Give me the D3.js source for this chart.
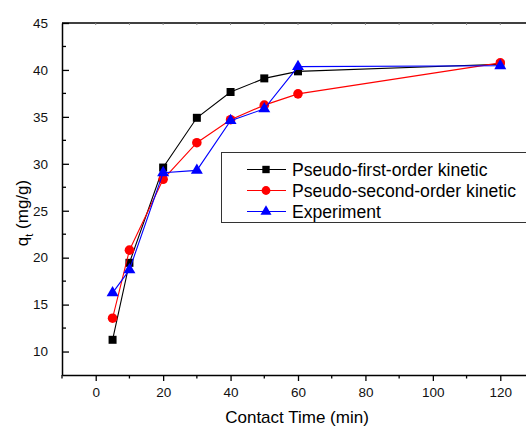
<!DOCTYPE html>
<html lang="en">

<head>
  <meta charset="utf-8">
  <title> Kinetics </title>
  <script src="https://d3js.org/d3.v7.min.js"></script>
  <style>
    body {
      margin: 0;
      font-family: "Liberation Sans", Arial, sans-serif;
      background: #fff;
    }

    svg {
      display: block;
    }
  </style>
</head>

<body>
  <script>
    // data
    var times = [5, 10, 20, 30, 40, 50, 60, 120];
    var firstOrder = [11.25, 19.45, 29.6, 34.9, 37.65, 39.1, 39.85, 40.6];
    var secondOrder = [13.55, 20.8, 28.35, 32.25, 34.7, 36.25, 37.45, 40.75];
    var experiment = [16.25, 18.7, 29.05, 29.3, 34.6, 35.85, 40.35, 40.45];
    var seriesNames = ["Pseudo-first-order kinetic", "Pseudo-second-order kinetic", "Experiment"];
    var xTicks = [0, 20, 40, 60, 80, 100, 120];
    var yTicks = [10, 15, 20, 25, 30, 35, 40, 45];

    var width = 526, height = 428;
    var plotLeft = 62, plotTop = 23, plotBottom = 375, plotRight = 534;

    var svg = d3.select("body").append("svg")
      .attr("width", width)
      .attr("height", height);

    var x = d3.scaleLinear().domain([-10, 130]).range([plotLeft, plotRight]);
    var y = d3.scaleLinear().domain([7.5, 45]).range([plotBottom, plotTop]);

    // top frame line with small inward ticks
    svg.append("line")
      .attr("x1", plotLeft).attr("x2", plotRight)
      .attr("y1", plotTop).attr("y2", plotTop)
      .attr("stroke", "#000").attr("stroke-width", 1.5);
    svg.append("g").selectAll("line")
      .data(d3.range(0, 130, 10))
      .enter().append("line")
      .attr("x1", function(d) { return x(d); })
      .attr("x2", function(d) { return x(d); })
      .attr("y1", plotTop).attr("y2", plotTop + 2)
      .attr("stroke", "#888").attr("stroke-width", 1);

    // bottom axis
    var xAxis = svg.append("g")
      .attr("transform", "translate(0," + plotBottom + ")")
      .call(d3.axisBottom(x).tickValues(xTicks).tickSize(6).tickSizeOuter(0).tickPadding(6));
    xAxis.selectAll("line").attr("stroke-width", 1.3);
    xAxis.append("g").selectAll("line")
      .data(d3.range(-10, 130, 20))
      .enter().append("line")
      .attr("x1", function(d) { return x(d); })
      .attr("x2", function(d) { return x(d); })
      .attr("y1", 0).attr("y2", 3.5)
      .attr("stroke", "#000").attr("stroke-width", 1.3);

    // left axis, ticks pointing inward
    var yAxis = svg.append("g")
      .attr("transform", "translate(" + plotLeft + ",0)")
      .call(d3.axisLeft(y).tickValues(yTicks).tickSize(-7).tickSizeOuter(0).tickPadding(14));
    yAxis.selectAll("line").attr("stroke-width", 1.3);
    yAxis.append("g").selectAll("line")
      .data(d3.range(12.5, 45, 5))
      .enter().append("line")
      .attr("y1", function(d) { return y(d); })
      .attr("y2", function(d) { return y(d); })
      .attr("x1", 0).attr("x2", 4)
      .attr("stroke", "#000").attr("stroke-width", 1.3);

    svg.selectAll(".domain").attr("stroke-width", 1.5);
    svg.selectAll(".tick text")
      .attr("font-size", 13.5)
      .attr("font-family", "Liberation Sans, Arial, sans-serif")
      .attr("fill", "#111");

    // axis titles
    svg.append("text")
      .attr("x", 297).attr("y", 423)
      .attr("text-anchor", "middle")
      .attr("font-size", 17)
      .text("Contact Time (min)");

    var yTitle = svg.append("text")
      .attr("transform", "translate(28,213) rotate(-90)")
      .attr("text-anchor", "middle")
      .attr("font-size", 17);
    yTitle.append("tspan").text("q");
    yTitle.append("tspan").attr("font-size", 11).attr("dy", 5).text("t");
    yTitle.append("tspan").attr("dy", -5).text(" (mg/g)");

    var series = [
      { name: seriesNames[0], values: firstOrder, color: "#000", symbol: d3.symbolSquare, size: 64 },
      { name: seriesNames[1], values: secondOrder, color: "#ff0000", symbol: d3.symbolCircle, size: 72 },
      { name: seriesNames[2], values: experiment, color: "#0000ff", symbol: d3.symbolTriangle, size: 62 }
    ];

    var line = d3.line()
      .x(function(d) { return x(d[0]); })
      .y(function(d) { return y(d[1]); });

    series.forEach(function(s) {
      var pts = times.map(function(t, i) { return [t, s.values[i]]; });
      svg.append("path")
        .datum(pts)
        .attr("d", line)
        .attr("fill", "none")
        .attr("stroke", s.color)
        .attr("stroke-width", 1.1);
      svg.append("g").selectAll("path")
        .data(pts)
        .enter().append("path")
        .attr("d", d3.symbol().type(s.symbol).size(s.size))
        .attr("transform", function(d) { return "translate(" + x(d[0]) + "," + y(d[1]) + ")"; })
        .attr("fill", s.color);
    });

    // legend
    var legend = svg.append("g");
    legend.append("rect")
      .attr("x", 221.5).attr("y", 152.5)
      .attr("width", 320).attr("height", 70)
      .attr("fill", "#fff")
      .attr("stroke", "#333").attr("stroke-width", 1);
    series.forEach(function(s, i) {
      var ly = 169.5 + i * 21;
      legend.append("line")
        .attr("x1", 247).attr("x2", 286)
        .attr("y1", ly).attr("y2", ly)
        .attr("stroke", s.color).attr("stroke-width", 1.1);
      legend.append("path")
        .attr("d", d3.symbol().type(s.symbol).size(s.size * 0.85))
        .attr("transform", "translate(266," + ly + ")")
        .attr("fill", s.color);
      legend.append("text")
        .attr("x", 292).attr("y", ly + 6)
        .attr("font-size", 17.6)
        .text(s.name);
    });
  </script>
</body>

</html>
